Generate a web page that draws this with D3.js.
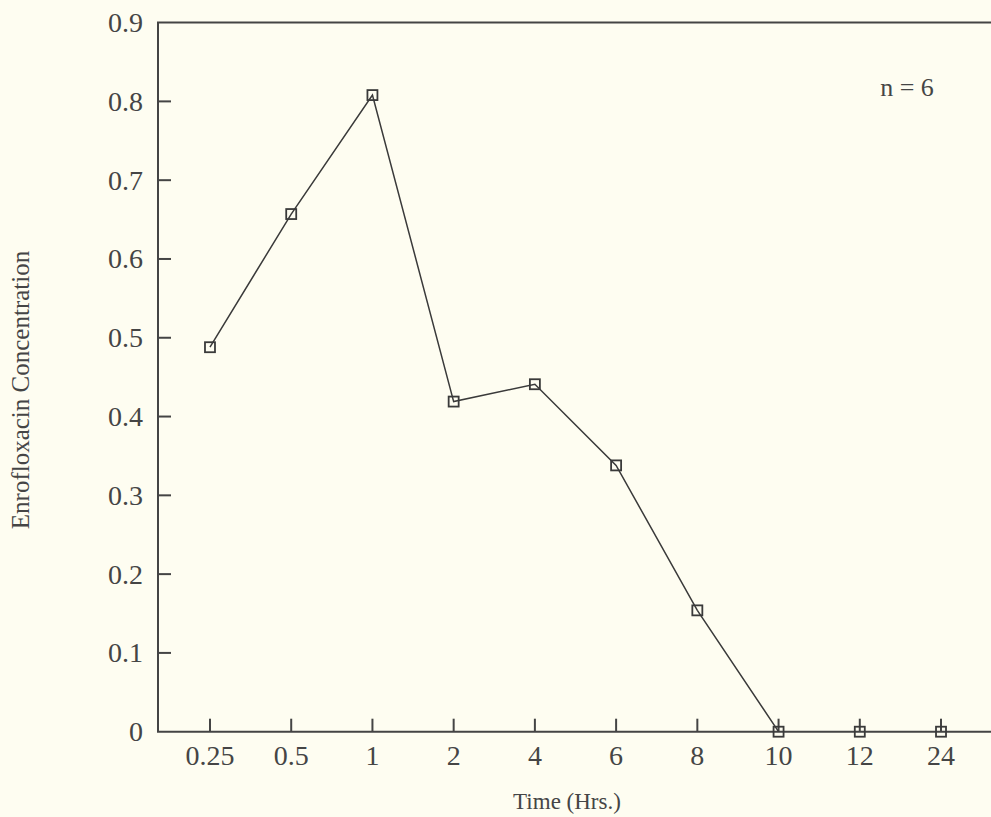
<!DOCTYPE html>
<html>
<head>
<meta charset="utf-8">
<script src="https://cdn.jsdelivr.net/npm/d3@7"></script>
<style>
    body { margin: 0; background: #fefdf1; }
    svg { display: block; }
    .tick-label { font-family: "Liberation Serif", "Times New Roman", serif; fill: #454545; }
    .axis-title { font-family: "Liberation Serif", "Times New Roman", serif; fill: #454545; }
</style>
</head>
<body>
<div id="chart"></div>
<script>
const timeLabels = ["0.25", "0.5", "1", "2", "4", "6", "8", "10", "12", "24"];
const concentration = [0.488, 0.657, 0.808, 0.419, 0.441, 0.338, 0.154, 0, 0, 0];
const yTicks = [0, 0.1, 0.2, 0.3, 0.4, 0.5, 0.6, 0.7, 0.8, 0.9];

function renderChart() {
    const width = 991;
    const height = 817;
    const left = 158;
    const top = 22.6;
    const bottom = 731.7;
    const right = 993;
    const tickLen = 13;
    const axisColor = "#444";

    const svg = d3.select("#chart")
        .append("svg")
        .attr("width", width)
        .attr("height", height);

    svg.append("rect")
        .attr("width", width)
        .attr("height", height)
        .attr("fill", "#fefdf1");

    const x = d3.scalePoint()
        .domain(timeLabels)
        .range([left, right])
        .padding(0.64);

    const y = d3.scaleLinear()
        .domain([0, 0.9])
        .range([bottom, top]);

    // frame: left, bottom, top (right side runs off the page)
    svg.append("path")
        .attr("d", `M${width},${top}H${left}V${bottom}H${width}`)
        .attr("fill", "none")
        .attr("stroke", axisColor)
        .attr("stroke-width", 2);

    // y ticks (inward) and labels
    svg.selectAll(".y-tick")
        .data(yTicks.slice(1, -1))
        .enter()
        .append("line")
        .attr("class", "y-tick")
        .attr("x1", left)
        .attr("x2", left + tickLen)
        .attr("y1", d => y(d))
        .attr("y2", d => y(d))
        .attr("stroke", axisColor)
        .attr("stroke-width", 2);

    svg.selectAll(".y-label")
        .data(yTicks)
        .enter()
        .append("text")
        .attr("class", "tick-label y-label")
        .attr("x", left - 15)
        .attr("y", d => y(d))
        .attr("dy", "0.34em")
        .attr("text-anchor", "end")
        .style("font-size", "28px")
        .text(d => d === 0 ? "0" : d3.format(".1f")(d));

    // x ticks (inward) and labels
    svg.selectAll(".x-tick")
        .data(timeLabels)
        .enter()
        .append("line")
        .attr("class", "x-tick")
        .attr("x1", d => x(d))
        .attr("x2", d => x(d))
        .attr("y1", bottom)
        .attr("y2", bottom - tickLen)
        .attr("stroke", axisColor)
        .attr("stroke-width", 2);

    svg.selectAll(".x-label")
        .data(timeLabels)
        .enter()
        .append("text")
        .attr("class", "tick-label x-label")
        .attr("x", d => x(d))
        .attr("y", 765)
        .attr("text-anchor", "middle")
        .style("font-size", "28px")
        .text(d => d);

    // line and markers
    const points = timeLabels.map((t, i) => ({ t, v: concentration[i] }));

    const line = d3.line()
        .x(d => x(d.t))
        .y(d => y(d.v));

    svg.append("path")
        .datum(points.slice(0, 8))
        .attr("d", line)
        .attr("fill", "none")
        .attr("stroke", "#3a3a3a")
        .attr("stroke-width", 1.5);

    const size = 10;
    svg.selectAll(".marker")
        .data(points)
        .enter()
        .append("rect")
        .attr("class", "marker")
        .attr("x", d => x(d.t) - size / 2)
        .attr("y", d => y(d.v) - size / 2)
        .attr("width", size)
        .attr("height", size)
        .attr("fill", "none")
        .attr("stroke", "#3a3a3a")
        .attr("stroke-width", 1.8);

    // titles
    svg.append("text")
        .attr("class", "axis-title")
        .attr("x", 567)
        .attr("y", 809)
        .attr("text-anchor", "middle")
        .style("font-size", "23px")
        .text("Time (Hrs.)");

    svg.append("text")
        .attr("class", "axis-title")
        .attr("transform", `translate(29, 390) rotate(-90)`)
        .attr("text-anchor", "middle")
        .style("font-size", "25px")
        .text("Enrofloxacin Concentration");

    svg.append("text")
        .attr("class", "axis-title")
        .attr("x", 907)
        .attr("y", 96)
        .attr("text-anchor", "middle")
        .style("font-size", "26px")
        .text("n = 6");
}

renderChart();
</script>
</body>
</html>
